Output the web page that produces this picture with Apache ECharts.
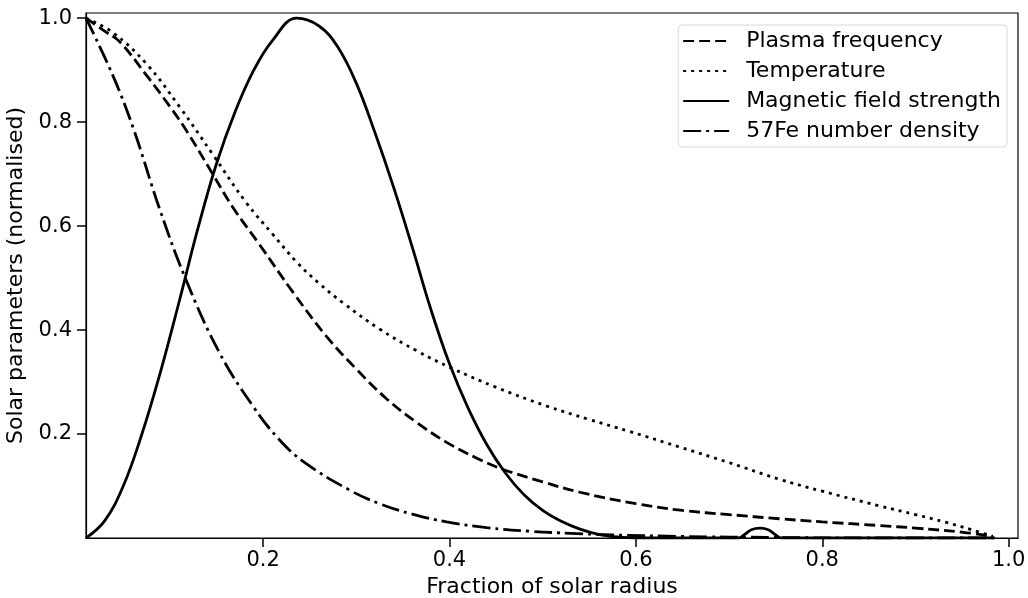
<!DOCTYPE html>
<html>
	<head>
		<meta charset="utf-8">
		<title>Solar parameters</title>
		<style>
			html, body { margin: 0; padding: 0; background: #fff; }
			#main { width: 1028px; height: 598px; }
		</style>
	</head>
	<body>
		<div id="main"></div>
	</body>
	<script src="https://cdn.jsdelivr.net/npm/echarts@6/dist/echarts.min.js"></script>
	<script>
		// 读图得到的数据 (x = 太阳半径比例, y = 归一化值)
		var plasmaX = [0.01, 0.03, 0.046, 0.075, 0.1, 0.118, 0.146, 0.168, 0.196, 0.232, 0.268, 0.3, 0.333, 0.365, 0.397, 0.43, 0.456, 0.5, 0.54, 0.6, 0.65, 0.7, 0.754, 0.8, 0.861, 0.9, 0.951, 0.983]
		var plasmaY = [1.0, 0.975, 0.955, 0.89, 0.83, 0.783, 0.70, 0.635, 0.565, 0.473, 0.388, 0.325, 0.267, 0.222, 0.184, 0.153, 0.133, 0.108, 0.088, 0.066, 0.053, 0.045, 0.037, 0.031, 0.024, 0.019, 0.011, 0.003]

		var tempX = [0.01, 0.039, 0.075, 0.111, 0.146, 0.182, 0.21, 0.236, 0.26, 0.286, 0.325, 0.365, 0.402, 0.45, 0.504, 0.55, 0.593, 0.647, 0.7, 0.754, 0.8, 0.861, 0.9, 0.933, 0.96, 0.983]
		var tempY = [1.0, 0.972, 0.912, 0.828, 0.738, 0.645, 0.585, 0.531, 0.49, 0.452, 0.402, 0.36, 0.327, 0.29, 0.254, 0.228, 0.205, 0.175, 0.145, 0.113, 0.09, 0.062, 0.045, 0.030, 0.016, 0.003]

		var fieldX = [0.01, 0.03, 0.05, 0.07, 0.09, 0.11, 0.13, 0.15, 0.17, 0.19, 0.21, 0.236, 0.26, 0.28, 0.30, 0.32, 0.34, 0.36, 0.38, 0.40, 0.42, 0.44, 0.46, 0.48, 0.50, 0.52, 0.54, 0.56, 0.58, 0.60, 0.65, 0.71, 0.716, 0.724, 0.733, 0.742, 0.75, 0.756, 0.8, 0.985]
		var fieldY = [0, 0.033, 0.1, 0.2, 0.32, 0.455, 0.595, 0.72, 0.82, 0.9, 0.957, 1.0, 0.985, 0.945, 0.875, 0.78, 0.675, 0.56, 0.44, 0.335, 0.25, 0.18, 0.125, 0.083, 0.053, 0.032, 0.017, 0.007, 0.002, 0, 0, 0, 0.006, 0.016, 0.019, 0.016, 0.006, 0, 0, 0]

		var feX = [0.01, 0.039, 0.061, 0.089, 0.117, 0.153, 0.189, 0.217, 0.244, 0.293, 0.325, 0.36, 0.397, 0.44, 0.486, 0.53, 0.575, 0.65, 0.75, 0.85, 0.985]
		var feY = [1.0, 0.889, 0.787, 0.633, 0.498, 0.357, 0.254, 0.19, 0.146, 0.092, 0.066, 0.046, 0.031, 0.02, 0.013, 0.009, 0.006, 0.003, 0.001, 0, 0]

		var tickValues = [0.2, 0.4, 0.6, 0.8, 1.0]

		function zip(xs, ys){
			var out = []
			for(var i=0;i<xs.length;i++){
				out.push([xs[i], ys[i]])
			}
			return out
		}

		var font = 'DejaVu Sans'
		var myChart = echarts.init(document.getElementById('main'))

		function lineSeries(name, data, dash){
			return {
				name: name,
				type: 'line',
				data: data,
				symbol: 'none',
				showSymbol: false,
				smooth: 0.4,
				animation: false,
				lineStyle: { color: '#000', width: 2.8, type: dash, cap: 'butt' },
				itemStyle: { color: '#000' }
			}
		}

		var option = {
			animation: false,
			backgroundColor: '#fff',
			grid: {
				left: 86, right: 10, top: 13, bottom: 60,
				containLabel: false,
				outerBoundsMode: 'none',
				show: true, borderColor: '#000', borderWidth: 1.2, backgroundColor: 'transparent'
			},
			legend: {
				right: 21, top: 25,
				orient: 'vertical',
				align: 'left',
				backgroundColor: '#fff',
				borderColor: '#d8d8d8',
				borderWidth: 1,
				borderRadius: 4,
				padding: [5, 6, 5, 4],
				itemWidth: 46,
				itemHeight: 14,
				itemGap: 8,
				itemStyle: { opacity: 0 },
				textStyle: { fontFamily: font, fontSize: 22, color: '#000', lineHeight: 22, padding: [0, 0, 0, 12] },
				data: ['Plasma frequency', 'Temperature', 'Magnetic field strength', '57Fe number density']
			},
			xAxis: {
				type: 'value',
				min: 0.01, max: 1.01,
				name: 'Fraction of solar radius',
				nameLocation: 'middle',
				nameGap: 35,
				nameTextStyle: { fontFamily: font, fontSize: 22, color: '#000' },
				splitLine: { show: false },
				axisLine: { show: true, lineStyle: { color: '#000', width: 1.2 } },
				axisTick: { show: true, inside: false, length: 9, lineStyle: { color: '#000', width: 1.5 }, customValues: tickValues },
				axisLabel: {
					fontFamily: font, fontSize: 21, color: '#000', margin: 12,
					customValues: tickValues,
					formatter: function(v){ return v.toFixed(1) }
				}
			},
			yAxis: {
				type: 'value',
				min: 0, max: 1.01,
				name: 'Solar parameters (normalised)',
				nameLocation: 'middle',
				nameGap: 54,
				nameTextStyle: { fontFamily: font, fontSize: 22, color: '#000' },
				splitLine: { show: false },
				axisLine: { show: true, lineStyle: { color: '#000', width: 1.2 } },
				axisTick: { show: true, inside: false, length: 9, lineStyle: { color: '#000', width: 1.5 }, customValues: tickValues },
				axisLabel: {
					fontFamily: font, fontSize: 21, color: '#000', margin: 14,
					customValues: tickValues,
					formatter: function(v){ return v.toFixed(1) }
				}
			},
			series: [
				lineSeries('Plasma frequency', zip(plasmaX, plasmaY), [11, 5]),
				lineSeries('Temperature', zip(tempX, tempY), [3, 5]),
				lineSeries('Magnetic field strength', zip(fieldX, fieldY), 'solid'),
				lineSeries('57Fe number density', zip(feX, feY), [18, 5, 3, 5])
			]
		}
		myChart.setOption(option)
	</script>
</html>
